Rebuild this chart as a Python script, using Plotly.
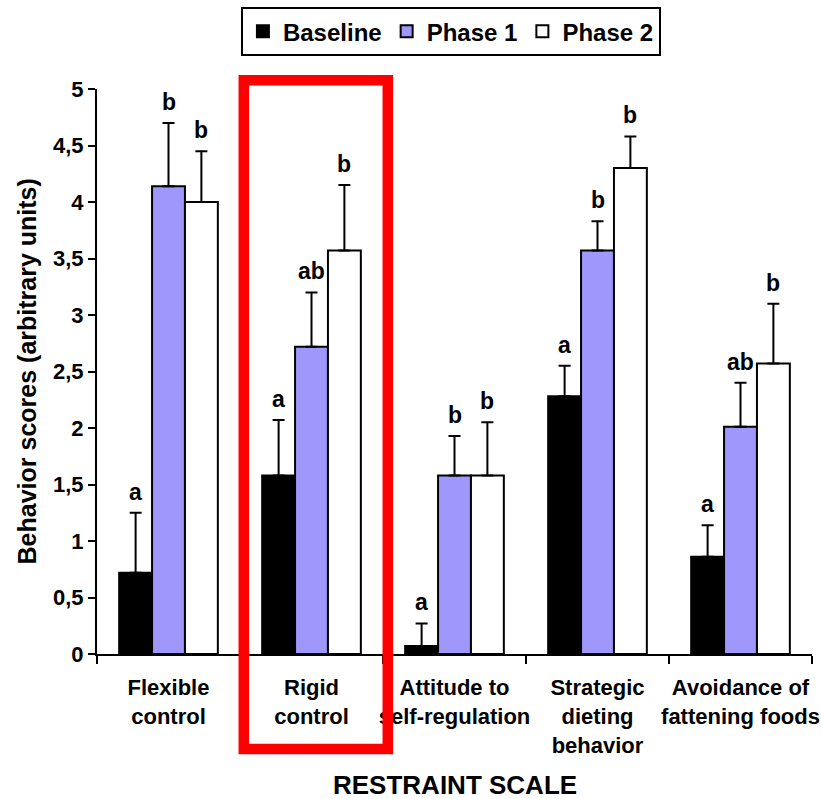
import plotly.graph_objects as go

categories = ["Flexible<br>control", "Rigid<br>control", "Attitude to<br>self-regulation",
              "Strategic<br>dieting<br>behavior", "Avoidance of<br>fattening foods"]
series_names = ["Baseline", "Phase 1", "Phase 2"]
baseline = [0.72, 1.58, 0.07, 2.28, 0.86]
phase1 = [4.14, 2.72, 1.58, 3.57, 2.01]
phase2 = [4.00, 3.57, 1.58, 4.30, 2.57]
baseline_err = [0.53, 0.49, 0.20, 0.27, 0.28]
phase1_err = [0.56, 0.48, 0.35, 0.26, 0.39]
phase2_err = [0.45, 0.58, 0.47, 0.28, 0.53]
baseline_sig = ["a", "a", "a", "a", "a"]
phase1_sig = ["b", "ab", "b", "b", "ab"]
phase2_sig = ["b", "b", "b", "b", "b"]
ytick_vals = [0, 0.5, 1, 1.5, 2, 2.5, 3, 3.5, 4, 4.5, 5]
ytick_text = ["0", "0,5", "1", "1,5", "2", "2,5", "3", "3,5", "4", "4,5", "5"]

colors = ["#000000", "#9F97FB", "#FFFFFF"]
values = [baseline, phase1, phase2]
errors = [baseline_err, phase1_err, phase2_err]
letters = [baseline_sig, phase1_sig, phase2_sig]

FONT = "Liberation Sans, Arial, sans-serif"
bargap = 0.31
bar_w = (1 - bargap) / 3

fig = go.Figure()
for name, vals, errs, col in zip(series_names, values, errors, colors):
    fig.add_trace(go.Bar(
        name=name, x=categories, y=vals,
        marker=dict(color=col, line=dict(color="black", width=2)),
        error_y=dict(type="data", array=errs, arrayminus=[0] * len(errs),
                     symmetric=False, color="black", thickness=2, width=6),
    ))

# significance letters above each error bar
annotations = []
for s, (vals, errs, labs) in enumerate(zip(values, errors, letters)):
    offset = (s - 1) * bar_w
    for i, (v, e, t) in enumerate(zip(vals, errs, labs)):
        annotations.append(dict(
            x=i + offset, y=v + e, xref="x", yref="y", text=t, showarrow=False,
            yanchor="bottom", yshift=6,
            font=dict(family=FONT, size=23, color="black", weight="bold"),
        ))

# axis titles
annotations.append(dict(
    x=0.5, y=-0.232, xref="paper", yref="paper", text="<b>RESTRAINT SCALE</b>",
    showarrow=False, xanchor="center", yanchor="middle", font=dict(size=26),
))
annotations.append(dict(
    x=-0.098, y=0.5, xref="paper", yref="paper",
    text="<b>Behavior scores (arbitrary units)</b>", textangle=-90,
    showarrow=False, xanchor="center", yanchor="middle", font=dict(size=25),
))

fig.update_layout(
    width=821, height=799,
    margin=dict(l=97, r=9, t=89, b=145, autoexpand=False),
    paper_bgcolor="white", plot_bgcolor="white",
    barmode="group", bargap=bargap, bargroupgap=0,
    font=dict(family=FONT, size=22, color="black"),
    showlegend=True,
    legend=dict(orientation="h", x=0.495, xanchor="center", y=1.145, yanchor="top",
                bordercolor="black", borderwidth=2,
                font=dict(size=24, weight="bold"),
                itemwidth=30, traceorder="normal"),
    annotations=annotations,
    shapes=[dict(type="rect", xref="paper", yref="paper",
                 x0=0.2053, x1=0.4067, y0=-0.168, y1=1.0154,
                 line=dict(color="#FF0000", width=10.5), layer="above")],
)
fig.update_xaxes(
    type="category", range=[-0.5, 4.5], automargin=False, tickangle=0,
    showline=True, linecolor="black", linewidth=2,
    ticks="outside", tickson="boundaries", ticklen=8, tickwidth=2, tickcolor="black",
    ticklabelstandoff=13,
    tickfont=dict(size=22, weight="bold"),
)
fig.update_yaxes(
    range=[0, 5], tickvals=ytick_vals, ticktext=ytick_text, automargin=False,
    showline=True, linecolor="black", linewidth=2, showgrid=False, zeroline=False,
    ticks="outside", ticklen=7, tickwidth=2, tickcolor="black",
    tickfont=dict(size=22, weight="bold"),
)

fig.write_html("out.html")
